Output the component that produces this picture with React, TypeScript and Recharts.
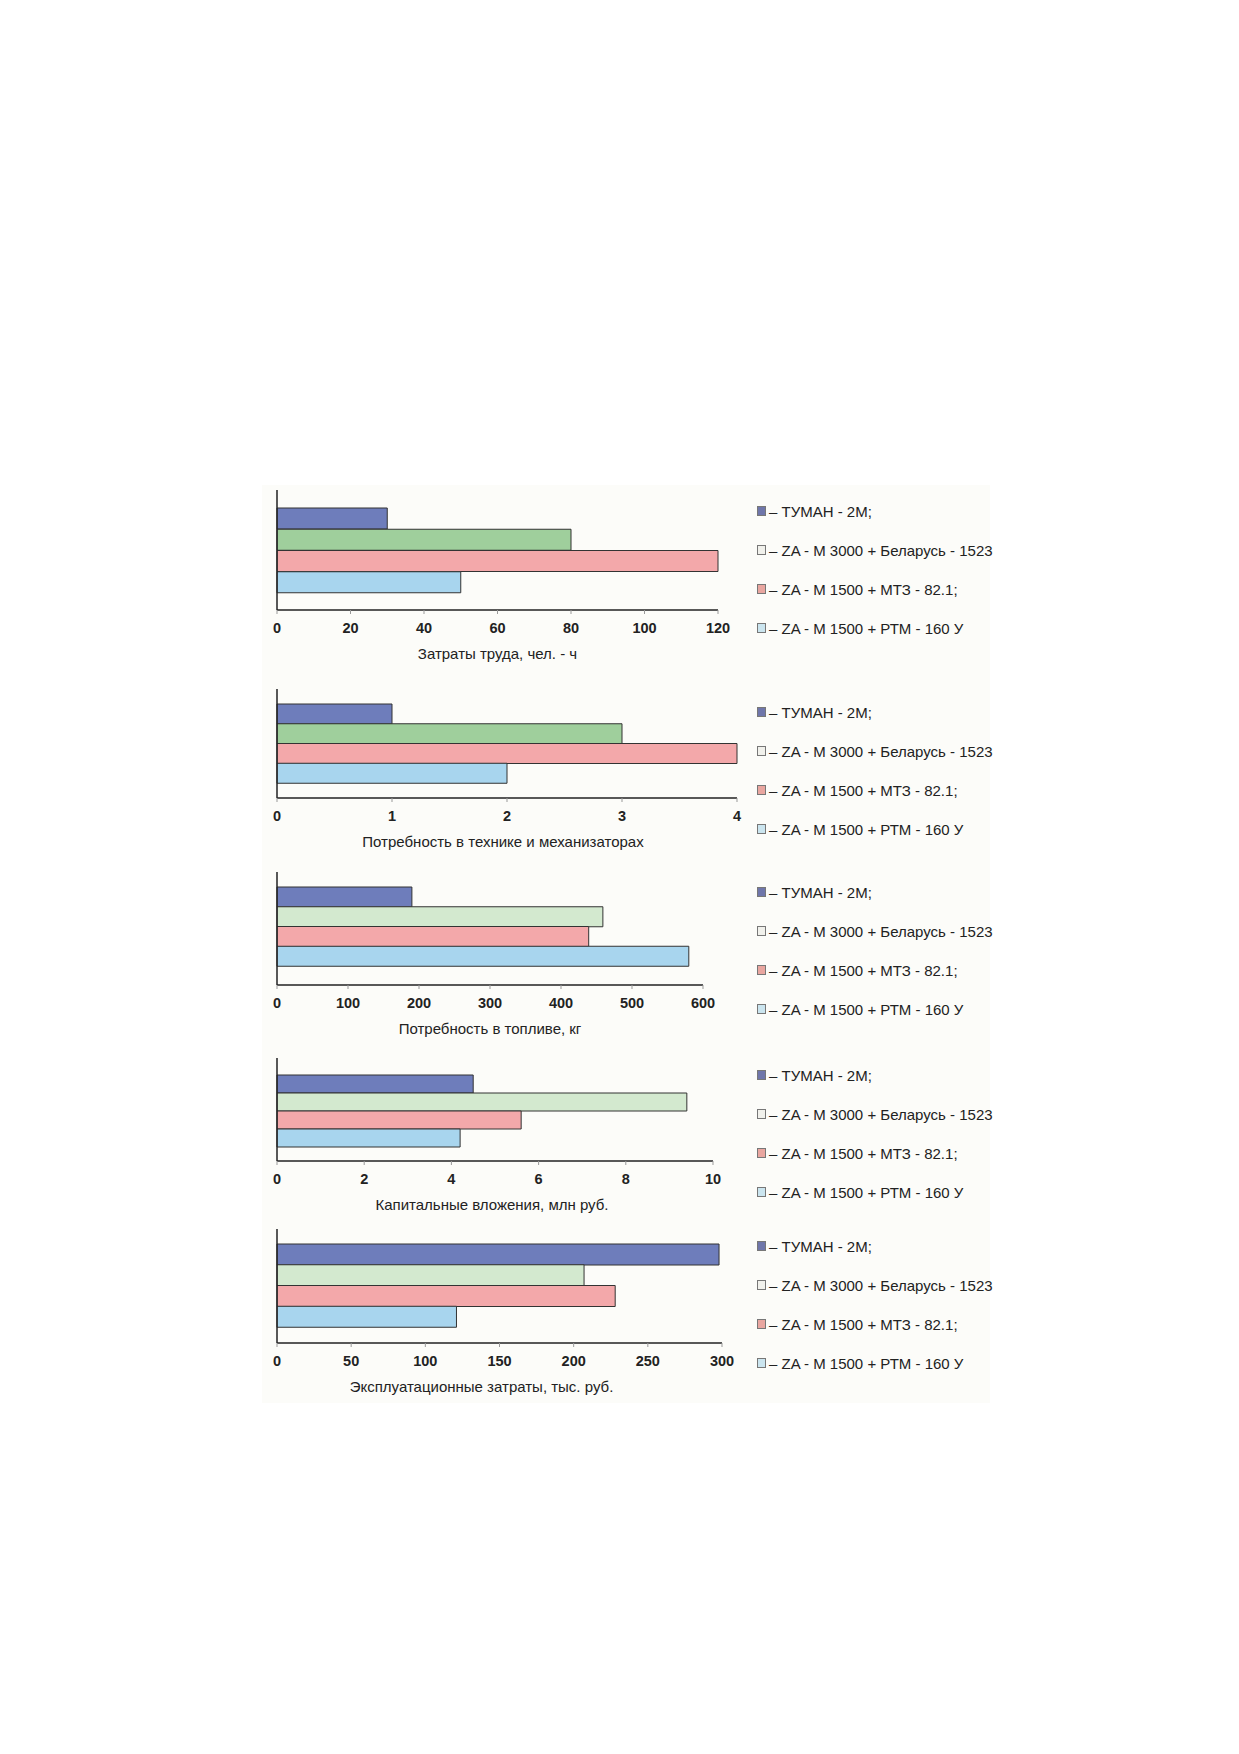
import React from "react";
import { BarChart, Bar, XAxis, YAxis, Cell } from "recharts";

const machines = [
  "– ТУМАН - 2М;",
  "– ZA - M 3000 + Беларусь - 1523",
  "– ZA - M 1500 + МТЗ - 82.1;",
  "– ZA - M 1500 + РТМ - 160 У",
];

const labour = [30, 80, 120, 50];
const labourTicks = [0, 20, 40, 60, 80, 100, 120];

const equipment = [1, 3, 4, 2];
const equipmentTicks = [0, 1, 2, 3, 4];

const fuel = [190, 459, 439, 580];
const fuelTicks = [0, 100, 200, 300, 400, 500, 600];

const capital = [4.5, 9.4, 5.6, 4.2];
const capitalTicks = [0, 2, 4, 6, 8, 10];

const operating = [298, 207, 228, 121];
const operatingTicks = [0, 50, 100, 150, 200, 250, 300];

const FONT = '"Liberation Sans", Arial, sans-serif';
const legendSwatch = ["#6f76aa", "#f1f1ec", "#e9a6a0", "#cbe5ef"];

interface PanelProps {
  title: string;
  values: number[];
  ticks: number[];
  axisTop: number;
  axisBottom: number;
  axisRight: number;
  padTop: number;
  padBottom: number;
  green: string;
  legendTop: number;
  titleDx?: number;
}

function Panel(p: PanelProps) {
  const left = 240;
  const marginRight = 25;
  const data = machines.map((m, i) => ({ name: m, value: p.values[i] }));
  const colors = ["#6e7dbb", p.green, "#f3a8aa", "#a8d5ee"];
  const max = p.ticks[p.ticks.length - 1];

  return (
    <>
      <div style={{ position: "absolute", left: left - 8, top: p.axisTop - 8 }}>
        <BarChart
          width={p.axisRight - left + marginRight}
          height={p.axisBottom - p.axisTop + 52}
          data={data}
          layout="vertical"
          barCategoryGap={0}
          margin={{ top: 0, right: marginRight, bottom: 0, left: 36 }}
        >
          <XAxis
            type="number"
            domain={[0, max]}
            ticks={p.ticks}
            interval={0}
            height={52}
            axisLine={{ stroke: "#222", strokeWidth: 1.5 }}
            tickLine={{ stroke: "#999" }}
            tickSize={4}
            tickMargin={9}
            tick={{ fontFamily: FONT, fontSize: 14.5, fontWeight: "bold", fill: "#222" }}
            label={{
              value: p.title,
              position: "insideBottom",
              offset: 3,
              dx: p.titleDx ?? 0,
              style: { fontFamily: FONT, fontSize: 15, fill: "#222" },
            }}
          />
          <YAxis
            type="category"
            dataKey="name"
            width={1}
            tick={false}
            tickLine={false}
            axisLine={{ stroke: "#222", strokeWidth: 1.5 }}
            padding={{ top: p.padTop, bottom: p.padBottom }}
          />
          <Bar dataKey="value" stroke="#333" strokeWidth={1} isAnimationActive={false}>
            {data.map((_, i) => (
              <Cell key={i} fill={colors[i]} />
            ))}
          </Bar>
        </BarChart>
      </div>
      <div
        style={{
          position: "absolute",
          left: 757 - 8,
          top: p.legendTop - 19.5 - 8,
          width: 240,
          overflow: "hidden",
          fontFamily: FONT,
          fontSize: 15,
          color: "#222",
        }}
      >
        {machines.map((m, i) => (
          <div key={m} style={{ height: 39, display: "flex", alignItems: "center", whiteSpace: "nowrap" }}>
            <span
              style={{
                display: "inline-block",
                width: 7,
                height: 8,
                border: "1px solid #777",
                background: legendSwatch[i],
                marginRight: 3,
              }}
            />
            {m}
          </div>
        ))}
      </div>
    </>
  );
}

export default function App() {
  return (
    <div style={{ position: "relative", width: 1223, height: 1738, background: "#fff" }}>
      <div
        style={{ position: "absolute", left: 262 - 8, top: 485 - 8, width: 728, height: 918, background: "#fcfcf9" }}
      />
      <Panel
        title="Затраты труда,  чел. - ч"
        values={labour}
        ticks={labourTicks}
        axisTop={490}
        axisBottom={610}
        axisRight={718}
        padTop={18}
        padBottom={17}
        green="#9fcf9c"
        legendTop={511}
      />
      <Panel
        title="Потребность в технике и механизаторах"
        values={equipment}
        ticks={equipmentTicks}
        axisTop={689}
        axisBottom={798}
        axisRight={737}
        padTop={15}
        padBottom={15}
        green="#9fcf9c"
        legendTop={712}
        titleDx={-4}
      />
      <Panel
        title="Потребность в топливе, кг"
        values={fuel}
        ticks={fuelTicks}
        axisTop={872}
        axisBottom={985}
        axisRight={703}
        padTop={15}
        padBottom={19}
        green="#d3e9cf"
        legendTop={892}
      />
      <Panel
        title="Капитальные вложения, млн руб."
        values={capital}
        ticks={capitalTicks}
        axisTop={1058}
        axisBottom={1161}
        axisRight={713}
        padTop={17}
        padBottom={14}
        green="#d3e9cf"
        legendTop={1075}
        titleDx={-3}
      />
      <Panel
        title="Эксплуатационные затраты, тыс. руб."
        values={operating}
        ticks={operatingTicks}
        axisTop={1229}
        axisBottom={1343}
        axisRight={722}
        padTop={15}
        padBottom={16}
        green="#d3e9cf"
        legendTop={1246}
        titleDx={-18}
      />
    </div>
  );
}
